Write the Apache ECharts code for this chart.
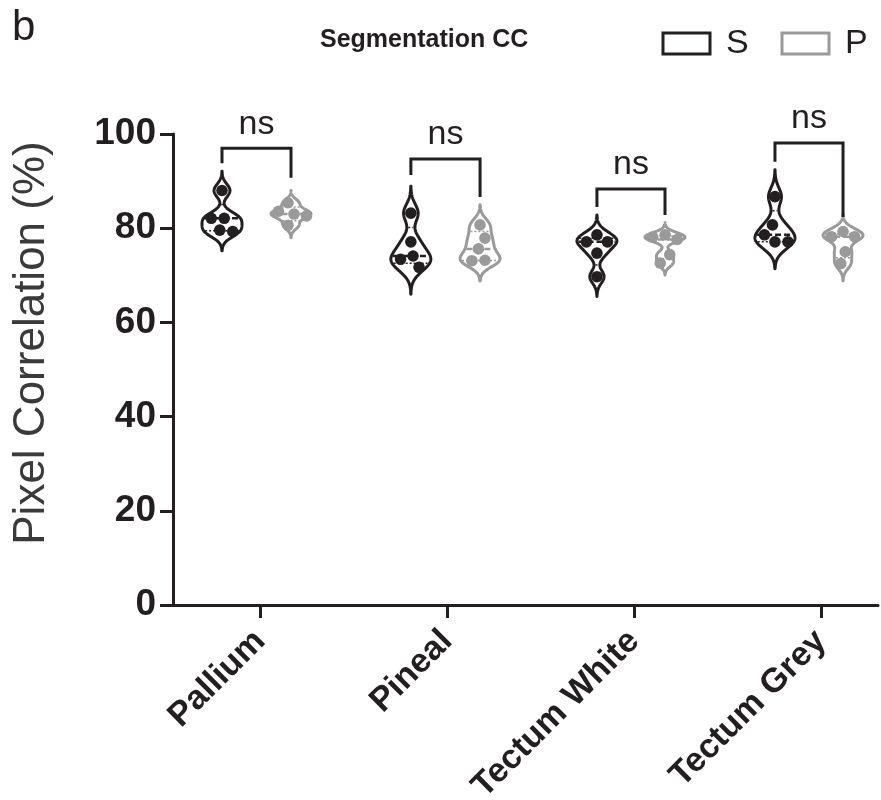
<!DOCTYPE html>
<html><head><meta charset="utf-8">
<script src="https://cdn.jsdelivr.net/npm/echarts@6/dist/echarts.min.js"></script>
<style>html,body{margin:0;padding:0;background:#fff}#c{width:881px;height:800px}</style>
</head><body><div id="c"></div>
<script>
// ---------- data ----------
const categories = ['Pallium', 'Pineal', 'Tectum White', 'Tectum Grey'];
const groupNames = ['S', 'P'];
const valuesS = [
  [88.0, 82.1, 82.1, 79.6, 79.3],
  [83.2, 77.1, 74.1, 73.4, 71.7],
  [78.6, 77.1, 77.1, 74.7, 69.7],
  [86.7, 80.7, 78.6, 77.1, 77.1]
];
const valuesP = [
  [85.4, 83.6, 83.0, 82.6, 80.6],
  [80.7, 77.9, 75.6, 73.2, 73.1],
  [78.6, 78.1, 77.6, 74.4, 72.6],
  [79.3, 78.2, 78.2, 75.0, 72.5]
];
const sigLabels = ['ns', 'ns', 'ns', 'ns'];
const bracketTop = [97.0, 94.7, 88.3, 98.1];
const bracketLegS = [93.8, 91.3, 84.5, 94.1];
const bracketLegP = [90.7, 86.6, 82.8, 82.4];
const yTicks = [0, 20, 40, 60, 80, 100];
const title = 'Segmentation CC';
const yName = 'Pixel Correlation (%)';

// ---------- layout / style ----------
const FONT = '"Liberation Sans", Arial, Helvetica, sans-serif';
const DARK = '#231f20';
const GREY = '#9a9a9a';
const offS = [-0.203, -0.193, -0.198, -0.246];
const offP = [0.166, 0.177, 0.166, 0.118];
const smoothS = [1.37, 1.9, 1.4, 1.9];   // kernel bandwidths (visual smoothing)
const smoothP = [0.87, 1.43, 0.85, 1.23];
const HALFW = 20;
const DOT_R = 5.8;

function q6(s, p) {
  const n = s.length; let h = (n + 1) * p - 1;
  h = Math.max(0, Math.min(n - 1, h));
  const lo = Math.floor(h), hi = Math.ceil(h);
  return s[lo] + (h - lo) * (s[hi] - s[lo]);
}
function makeStats(vals, bw) {
  const s = vals.slice().sort((a, b) => a - b);
  const n = s.length;
  const lo = s[0] - 3 * bw, hi = s[n - 1] + 3 * bw;
  const N = 160, ys = [], ds = [];
  const dens = y => s.reduce((a, v) => a + Math.exp(-0.5 * ((y - v) / bw) * ((y - v) / bw)), 0);
  let maxD = 0;
  for (let i = 0; i <= N; i++) {
    const y = lo + (hi - lo) * i / N; const d = dens(y);
    ys.push(y); ds.push(d); if (d > maxD) maxD = d;
  }
  return { vals: vals, s, ys, ds, maxD, dens, median: q6(s, 0.5), q1: q6(s, 0.25), q3: q6(s, 0.75) };
}
const STATS = [valuesS.map((v, i) => makeStats(v, smoothS[i])), valuesP.map((v, i) => makeStats(v, smoothP[i]))];

function swarm(pys) {
  const idx = pys.map((y, i) => i).sort((a, b) => pys[a] - pys[b]);
  const xs = new Array(pys.length).fill(0);
  const placed = [];
  const D = DOT_R * 2 + 1;
  idx.forEach(i => {
    let best = 0;
    for (let k = 0; k < 200; k++) {
      const cands = k === 0 ? [0] : [-k * 0.5, k * 0.5];
      let ok = null;
      for (const c of cands) {
        if (placed.every(j => Math.hypot(xs[j] - c, pys[j] - pys[i]) >= D)) { ok = c; break; }
      }
      if (ok !== null) { best = ok; break; }
    }
    xs[i] = best; placed.push(i);
  });
  const comp = new Array(pys.length).fill(-1); let cid = 0;
  idx.forEach((i, k) => {
    if (k > 0 && Math.abs(pys[i] - pys[idx[k - 1]]) < D) comp[i] = comp[idx[k - 1]];
    else comp[i] = cid++;
  });
  for (let c = 0; c < cid; c++) {
    const mem = idx.filter(i => comp[i] === c);
    if (mem.length > 1) {
      const m = mem.reduce((a, i) => a + xs[i], 0) / mem.length;
      mem.forEach(i => xs[i] -= m);
    }
  }
  return xs;
}

function renderViolin(params, api) {
  const ci = api.value(0), gi = api.value(1);
  const st = STATS[gi][ci];
  const color = gi === 0 ? DARK : GREY;
  const off = gi === 0 ? offS[ci] : offP[ci];
  const cx = api.coord([ci + off, 0])[0];
  const py = v => api.coord([0, v])[1];
  const hw = v => st.dens(v) / st.maxD * HALFW;
  const pts = [];
  for (let i = 0; i < st.ys.length; i++) pts.push([cx + st.ds[i] / st.maxD * HALFW, py(st.ys[i])]);
  for (let i = st.ys.length - 1; i >= 0; i--) pts.push([cx - st.ds[i] / st.maxD * HALFW, py(st.ys[i])]);
  const children = [{
    type: 'polygon', shape: { points: pts },
    style: { fill: '#fff', stroke: color, lineWidth: 3, lineJoin: 'round' }
  }];
  const hl = (v, dash, lw) => {
    const w = Math.max(0, hw(v) - 1.5);
    children.push({ type: 'line', shape: { x1: cx - w, y1: py(v), x2: cx + w, y2: py(v) },
      style: { stroke: color, lineWidth: lw, lineDash: dash } });
  };
  hl(st.q1, [2, 2], 1.5);
  hl(st.q3, [2, 2], 1.5);
  hl(st.median, [6, 3], 2.5);
  const pys = st.vals.map(py);
  const xs = swarm(pys);
  pys.forEach((y, i) => children.push({ type: 'circle', shape: { cx: cx + xs[i], cy: y, r: DOT_R }, style: { fill: color } }));
  return { type: 'group', children };
}

function renderBracket(params, api) {
  const ci = api.value(0);
  const xs = api.coord([ci + offS[ci], bracketLegS[ci]]);
  const xp = api.coord([ci + offP[ci], bracketLegP[ci]]);
  const yt = api.coord([0, bracketTop[ci]])[1];
  return { type: 'group', children: [
    { type: 'polyline', shape: { points: [[xs[0], xs[1]], [xs[0], yt], [xp[0], yt], [xp[0], xp[1]]] },
      style: { stroke: DARK, lineWidth: 3, fill: null, lineJoin: 'miter' } },
    { type: 'text', x: (xs[0] + xp[0]) / 2, y: yt - 24,
      style: { text: sigLabels[ci], font: '34px ' + FONT, fill: DARK, align: 'center', verticalAlign: 'middle' } }
  ] };
}

const violinData = [];
for (let g = 0; g < 2; g++) for (let c = 0; c < categories.length; c++) violinData.push([c, g]);

const chart = echarts.init(document.getElementById('c'), null, { renderer: 'canvas' });
chart.setOption({
  animation: false,
  backgroundColor: '#fff',
  grid: { left: 173, right: 3, top: 134, bottom: 195, containLabel: false, outerBoundsMode: 'none' },
  xAxis: {
    type: 'value', min: -0.465, max: 3.305,
    axisLine: { show: true, onZero: false, lineStyle: { color: DARK, width: 3 } },
    axisTick: { show: true, length: 13, customValues: [0, 1, 2, 3], lineStyle: { color: DARK, width: 3 } },
    axisLabel: { customValues: [0, 1, 2, 3], formatter: v => categories[Math.round(v)], rotate: 45,
      margin: 31, fontSize: 34, fontWeight: 'bold', fontFamily: FONT, color: DARK },
    splitLine: { show: false }
  },
  yAxis: {
    type: 'value', min: 0, max: 100, interval: 20,
    axisLine: { show: true, onZero: false, lineStyle: { color: DARK, width: 3 } },
    axisTick: { show: true, length: 13, lineStyle: { color: DARK, width: 3 } },
    axisLabel: { margin: 17, fontSize: 37, fontWeight: 'bold', fontFamily: FONT, color: DARK,
      formatter: v => yTicks.indexOf(v) >= 0 ? String(v) : '' },
    splitLine: { show: false }
  },
  series: [
    { type: 'custom', renderItem: renderViolin, data: violinData, clip: false },
    { type: 'custom', renderItem: renderBracket, data: categories.map((c, i) => [i]), clip: false }
  ],
  graphic: [
    { type: 'text', left: 12, top: 7, style: { text: 'b', font: '42px ' + FONT, fill: DARK } },
    { type: 'text', left: 320, top: 28, style: { text: title, font: 'bold 25px ' + FONT, fill: DARK } },
    { type: 'rect', shape: { x: 663, y: 33, width: 47, height: 21 }, style: { fill: '#fff', stroke: DARK, lineWidth: 3 } },
    { type: 'text', left: 726, top: 27, style: { text: groupNames[0], font: '34px ' + FONT, fill: DARK } },
    { type: 'rect', shape: { x: 782, y: 33, width: 47, height: 21 }, style: { fill: '#fff', stroke: GREY, lineWidth: 3 } },
    { type: 'text', left: 845, top: 27, style: { text: groupNames[1], font: '34px ' + FONT, fill: DARK } },
    { type: 'text', x: 32, y: 343, rotation: Math.PI / 2,
      style: { text: yName, font: '44px ' + FONT, fill: '#3a3a3a', align: 'center', verticalAlign: 'middle' } }
  ]
});
</script></body></html>
